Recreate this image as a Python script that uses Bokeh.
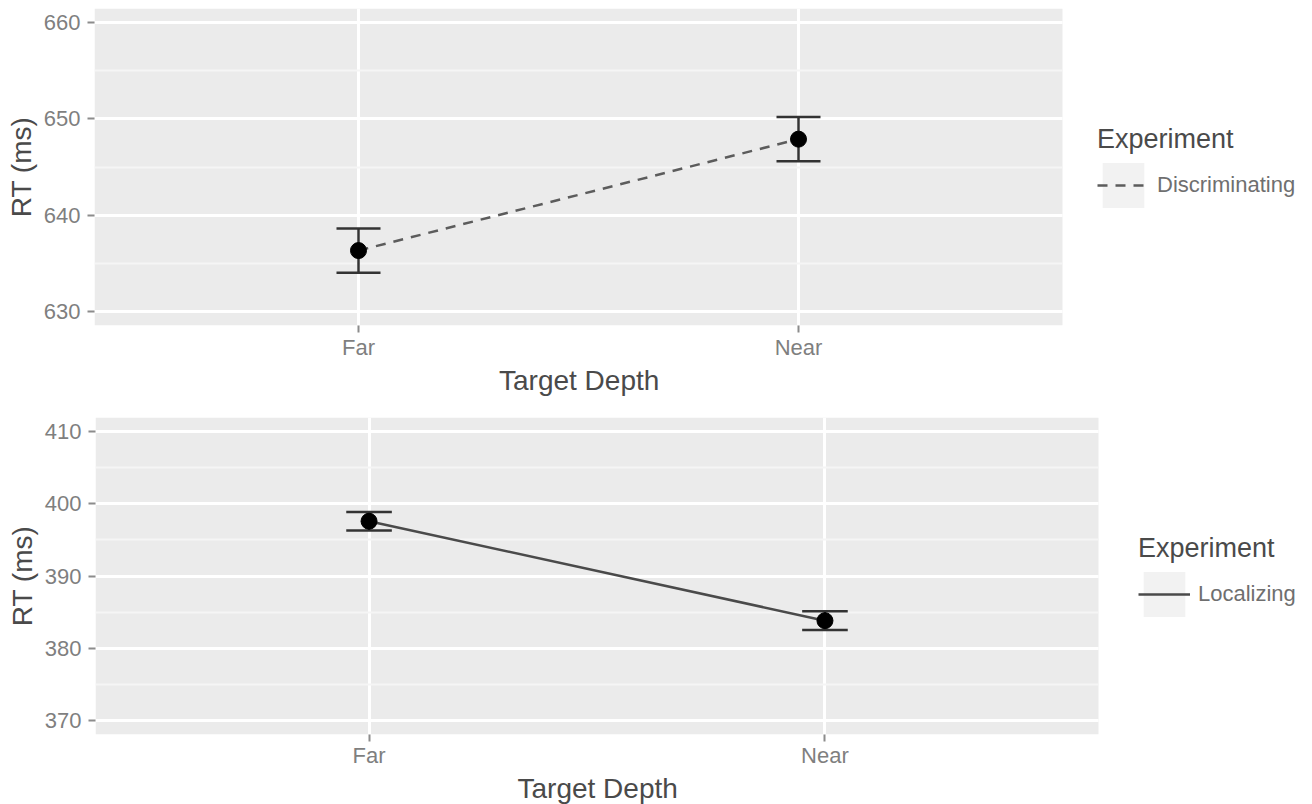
from bokeh.plotting import figure
from bokeh.models import (Range1d, FixedTicker, Legend, LegendItem,
                          BoxAnnotation, Title)
from bokeh.embed import file_html
from bokeh.resources import INLINE

# Mean reaction times (ms) and standard errors per target depth
categories = ["Far", "Near"]
disc_rt = [636.3, 647.9]
disc_se = [2.3, 2.3]
loc_rt = [397.6, 383.8]
loc_se = [1.3, 1.3]
disc_yticks = [630, 640, 650, 660]
loc_yticks = [370, 380, 390, 400, 410]

FONT = "Liberation Sans"
PANEL_BG = "#EBEBEB"
KEY_BG = "#F2F2F2"
FIG_W = 1312
XTITLE_W = 159  # rendered width of the x-axis title at 28px


def rt_panel(rt, se, yticks, experiment, dash, line_color, height,
             frame_left, panel_w, border_bottom,
             label_standoff, title_standoff, legend_xy):
    xs = [i + 1 for i in range(len(categories))]
    x0, x1 = 0.4, len(categories) + 0.6
    # the frame runs to the right edge; the grey panel covers x0..x1 and the
    # space beyond it holds the legend
    x_end = x0 + (FIG_W - frame_left) * (x1 - x0) / panel_w
    pad = (yticks[-1] - yticks[0]) * 0.05
    p = figure(width=FIG_W, height=height, output_backend="svg",
               toolbar_location=None,
               x_range=Range1d(x0, x_end),
               y_range=Range1d(yticks[0] - pad, yticks[-1] + pad),
               min_border_left=frame_left, min_border_right=0,
               min_border_top=8, min_border_bottom=border_bottom)
    p.background_fill_color = "white"
    p.border_fill_color = "white"
    p.outline_line_color = None
    p.add_layout(BoxAnnotation(left=x0, right=x1, fill_color=PANEL_BG,
                               fill_alpha=1, line_color=None, level="image"))

    # grid: major white lines, lighter minor lines midway
    minor = [(a + b) / 2 for a, b in zip(yticks[:-1], yticks[1:])]
    p.xaxis.ticker = FixedTicker(ticks=xs)
    p.xaxis.major_label_overrides = {x: c for x, c in zip(xs, categories)}
    p.yaxis.ticker = FixedTicker(ticks=yticks, minor_ticks=minor)
    p.xgrid.grid_line_color = "white"
    p.xgrid.grid_line_width = 3
    p.ygrid.grid_line_color = "white"
    p.ygrid.grid_line_width = 3
    p.ygrid.minor_grid_line_color = "#F5F5F5"
    p.ygrid.minor_grid_line_width = 2
    p.ygrid.cross_bounds = (x0, x1)

    for ax in (p.xaxis[0], p.yaxis[0]):
        ax.axis_line_color = None
        ax.major_tick_in = 0
        ax.major_tick_out = 7
        ax.minor_tick_in = 0
        ax.minor_tick_out = 0
        ax.major_tick_line_color = "#8c8c8c"
        ax.major_tick_line_width = 2
        ax.major_label_text_font = FONT
        ax.major_label_text_font_size = "22px"
        ax.major_label_text_color = "#7f7f7f"
        ax.axis_label_text_font = FONT
        ax.axis_label_text_font_size = "28px"
        ax.axis_label_text_font_style = "normal"
        ax.axis_label_text_color = "#4a4a4a"
    p.yaxis.axis_label = "RT (ms)"
    p.xaxis.major_label_standoff = label_standoff
    p.yaxis.major_label_standoff = 7
    p.yaxis.axis_label_standoff = 4

    # x-axis title, centred under the grey panel
    p.add_layout(Title(text="Target Depth", align="left",
                       offset=panel_w / 2 - XTITLE_W / 2,
                       standoff=title_standoff,
                       text_font=FONT, text_font_size="28px",
                       text_font_style="normal", text_color="#4a4a4a"), "below")

    lo = [m - s for m, s in zip(rt, se)]
    hi = [m + s for m, s in zip(rt, se)]
    cap_l = [x - 0.05 for x in xs]
    cap_r = [x + 0.05 for x in xs]

    # zero-area quad: supplies the grey key background in the legend
    key_bg = p.quad(left=xs[:1], right=xs[:1], bottom=rt[:1], top=rt[:1],
                    fill_color=KEY_BG, line_color=None)
    trend = p.line(xs, rt, line_color=line_color, line_width=2.5,
                   line_dash=dash)
    p.segment(x0=xs, y0=lo, x1=xs, y1=hi, line_color="#333333", line_width=2.5)
    p.segment(x0=cap_l, y0=hi, x1=cap_r, y1=hi, line_color="#333333", line_width=2.5)
    p.segment(x0=cap_l, y0=lo, x1=cap_r, y1=lo, line_color="#333333", line_width=2.5)
    p.scatter(xs, rt, size=16, color="black")

    legend = Legend(items=[LegendItem(label=experiment, renderers=[key_bg, trend])],
                    location=legend_xy, title="Experiment",
                    margin=0, padding=0, spacing=0,
                    glyph_width=52, glyph_height=56, label_standoff=8,
                    title_standoff=2,
                    title_text_font=FONT, title_text_font_size="27px",
                    title_text_font_style="normal", title_text_color="#4a4a4a",
                    label_text_font=FONT, label_text_font_size="22px",
                    label_text_color="#6f6f6f",
                    background_fill_alpha=0, border_line_color=None)
    p.add_layout(legend)
    return p


top = rt_panel(disc_rt, disc_se, disc_yticks, "Discriminating", "10 8", "#5c5c5c",
               height=409, frame_left=94, panel_w=968, border_bottom=84,
               label_standoff=2, title_standoff=0, legend_xy=(1003, 112))
bottom = rt_panel(loc_rt, loc_se, loc_yticks, "Localizing", "solid", "#4a4a4a",
                  height=395, frame_left=95, panel_w=1003, border_bottom=70,
                  label_standoff=1, title_standoff=0, legend_xy=(1043, 112))

open("out.html", "w").write(file_html([top, bottom], INLINE))
